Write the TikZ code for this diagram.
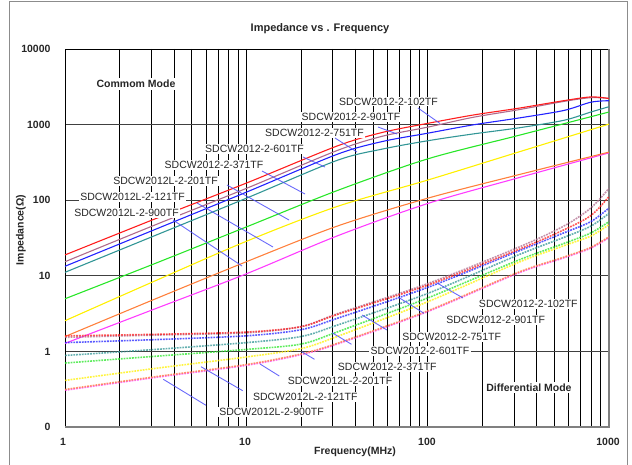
\documentclass[tikz,border=0pt]{standalone}
\usepackage{fontspec}
\setmainfont{Liberation Sans}
\definecolor{cred}{RGB}{255,30,30}
\definecolor{cmauve}{RGB}{176,106,140}
\definecolor{cblue}{RGB}{35,35,255}
\definecolor{cteal}{RGB}{50,150,150}
\definecolor{cgreen}{RGB}{40,230,40}
\definecolor{cyellow}{RGB}{255,240,0}
\definecolor{corange}{RGB}{255,128,60}
\definecolor{cpink}{RGB}{255,60,255}
\definecolor{lead}{RGB}{80,80,250}
\begin{document}
\begin{tikzpicture}[x=1pt, y=-1pt,
  gridline/.style={black, line width=0.7pt},
  decade/.style={black!75, line width=1.1pt},
  cmcurve/.style={line width=1.1pt},
  dmcurve/.style={line width=1.6pt, dash pattern=on 1.8pt off 1pt, opacity=0.75},
  part/.style={fill=white, inner sep=1.2pt, text=black!85, font=\fontsize{10.5pt}{12pt}\selectfont},
  tag/.style={text=black!85, font=\bfseries\fontsize{10.5pt}{12pt}\selectfont},
  leader/.style={draw=lead, line width=0.9pt, opacity=0.85}]
\useasboundingbox (0, 0) rectangle (632, 465);
\draw [black!45, line width=1pt] (9, 465) -- (9, 2) -- (627, 2) -- (627, 465);

% grid
\foreach \d in {0, 1, 2}
  \foreach \k in {2, ..., 9}
    \draw [gridline] ({65 + 181.3*(\d + log10(\k))}, 49) -- ++(0, 378);
\foreach \d in {1, 2}
  \draw [gridline] ({65 + 181.3*\d}, 49) -- ++(0, 378);
\foreach \i in {1, ..., 4}
  \draw [decade] (65, {49 + 75.6*\i}) -- (609, {49 + 75.6*\i});
\draw [black, line width=0.8pt] (65, 427) -- (65, 49) -- (609, 49);
\draw [black!50, line width=1.6pt] (65, 427) -- (609, 427) -- (609, 49);

% curves, log f against log Z
\begin{scope}[shift={(65, 351.7)}, x=181.3pt, y=75.6pt]
\draw [cmcurve, cpink] plot [smooth] coordinates {(0, 0.11) (0.5, 0.57) (1, 1.03) (1.5, 1.53) (2, 1.96) (2.5, 2.30) (3, 2.63)};
\draw [cmcurve, corange] plot [smooth] coordinates {(0, 0.20) (0.5, 0.70) (1, 1.19) (1.5, 1.66) (2, 2.03) (2.5, 2.34) (3, 2.64)};
\draw [cmcurve, cyellow] plot [smooth] coordinates {(0, 0.41) (0.5, 0.94) (1, 1.46) (1.5, 1.92) (2, 2.27) (2.5, 2.64) (3, 3.01)};
\draw [cmcurve, cgreen] plot [smooth] coordinates {(0, 0.70) (0.5, 1.17) (1, 1.65) (1.5, 2.13) (2, 2.55) (2.5, 2.86) (3, 3.17)};
\draw [cmcurve, cteal] plot [smooth] coordinates {(0, 1.05) (0.5, 1.54) (1, 2.03) (1.5, 2.53) (1.75, 2.68) (2, 2.79) (2.25, 2.88) (2.5, 2.96) (2.75, 3.06) (2.9, 3.17) (3, 3.24)};
\draw [cmcurve, cblue] plot [smooth] coordinates {(0, 1.13) (0.5, 1.62) (1, 2.11) (1.5, 2.61) (1.75, 2.78) (2, 2.89) (2.25, 3.0) (2.5, 3.09) (2.75, 3.19) (2.9, 3.3) (3, 3.32)};
\draw [cmcurve, cmauve] plot [smooth] coordinates {(0, 1.19) (0.5, 1.68) (1, 2.16) (1.5, 2.66) (1.75, 2.85) (2, 2.97) (2.25, 3.1) (2.5, 3.2) (2.75, 3.31) (2.9, 3.36) (3, 3.35)};
\draw [cmcurve, cred] plot [smooth] coordinates {(0, 1.28) (0.5, 1.76) (1, 2.23) (1.5, 2.72) (1.75, 2.9) (2, 3.02) (2.25, 3.13) (2.5, 3.22) (2.75, 3.32) (2.9, 3.37) (3, 3.35)};

\draw [dmcurve, cpink] plot [smooth] coordinates {(0, -0.51) (0.5, -0.34) (1, -0.18) (1.3, -0.04) (1.5, 0.10) (2, 0.53) (2.5, 1.04) (2.75, 1.24) (2.9, 1.37) (3, 1.51)};
\draw [dmcurve, corange] plot [smooth] coordinates {(0, -0.50) (0.5, -0.33) (1, -0.17) (1.3, -0.03) (1.5, 0.11) (2, 0.54) (2.5, 1.05) (2.75, 1.25) (2.9, 1.38) (3, 1.52)};
\draw [dmcurve, cyellow] plot [smooth] coordinates {(0, -0.38) (0.5, -0.22) (1, -0.07) (1.3, 0.04) (1.5, 0.2) (2, 0.66) (2.5, 1.18) (2.75, 1.40) (2.9, 1.53) (3, 1.68)};
\draw [dmcurve, cgreen] plot [smooth] coordinates {(0, -0.15) (0.5, -0.06) (1, 0.03) (1.3, 0.1) (1.5, 0.26) (2, 0.71) (2.5, 1.21) (2.75, 1.43) (2.9, 1.57) (3, 1.72)};
\draw [dmcurve, cteal] plot [smooth] coordinates {(0, -0.05) (0.5, 0.03) (1, 0.12) (1.3, 0.2) (1.5, 0.35) (2, 0.77) (2.5, 1.28) (2.75, 1.51) (2.9, 1.66) (3, 1.83)};
\draw [dmcurve, cblue] plot [smooth] coordinates {(0, 0.12) (0.5, 0.16) (1, 0.21) (1.3, 0.29) (1.5, 0.44) (2, 0.85) (2.5, 1.33) (2.75, 1.57) (2.9, 1.72) (3, 1.90)};
\draw [dmcurve, cmauve] plot [smooth] coordinates {(0, 0.19) (0.5, 0.22) (1, 0.25) (1.3, 0.33) (1.5, 0.5) (2, 0.9) (2.5, 1.38) (2.75, 1.66) (2.9, 1.9) (3, 2.16)};
\draw [dmcurve, cred] plot [smooth] coordinates {(0, 0.21) (0.5, 0.23) (1, 0.26) (1.3, 0.33) (1.5, 0.49) (2, 0.88) (2.5, 1.35) (2.75, 1.61) (2.9, 1.8) (3, 2.05)};
\end{scope}

% titles and axes
\node (title) at (320, 29) [tag, font=\bfseries\fontsize{11pt}{13pt}\selectfont] {Impedance vs . Frequency};
\node (ytitle) at (21, 230) [tag, rotate=90] {Impedance(Ω)};
\node (xtitle) at (355, 452) [tag] {Frequency(MHz)};
\node (y4) at (54, 49) [tag, anchor=east] {10000};
\node (y3) at (54, 124.6) [tag, anchor=east] {1000};
\node (y2) at (54, 200.2) [tag, anchor=east] {100};
\node (y1) at (54, 275.8) [tag, anchor=east] {10};
\node (y0) at (54, 351.4) [tag, anchor=east] {1};
\node (ym) at (54, 427) [tag, anchor=east] {0};
\node (x0) at (63, 442) [tag] {1};
\node (x1) at (245, 442) [tag] {10};
\node (x2) at (427, 442) [tag] {100};
\node (x3) at (608, 442) [tag] {1000};
\node (cmode) at (136, 84) [tag, fill=white, inner sep=2pt] {Commom Mode};
\node (dmode) at (529, 387.5) [tag, fill=white, inner sep=2pt] {Differential Mode};

% common mode labels
\node (cm102) at (388.5, 101.5) [part] {SDCW2012-2-102TF};
\node (cm901) at (351, 117) [part] {SDCW2012-2-901TF};
\node (cm751) at (314.5, 133.3) [part] {SDCW2012-2-751TF};
\node (cm601) at (254.5, 149) [part] {SDCW2012-2-601TF};
\node (cm371) at (214, 165) [part] {SDCW2012-2-371TF};
\node (cm201) at (165.5, 181) [part] {SDCW2012L-2-201TF};
\node (cm121) at (132.5, 197) [part] {SDCW2012L-2-121TF};
\node (cm900) at (126.5, 213) [part] {SDCW2012L-2-900TF};
\coordinate (cm102e) at (440, 123.5);
\coordinate (cm901e) at (397, 134);
\coordinate (cm751e) at (357, 152);
\coordinate (cm601e) at (325, 167);
\coordinate (cm371e) at (305, 194);
\coordinate (cm201e) at (289, 220);
\coordinate (cm121e) at (273, 247);
\coordinate (cm900e) at (242, 266);
\draw [leader] (cm102) ++(29.5, 6.5) -- (cm102e);
\draw [leader] (cm901) ++(27, 10) -- (cm901e);
\draw [leader] (cm751) ++(20.5, 4.7) -- (cm751e);
\draw [leader] (cm601) ++(48.5, 8) -- (cm601e);
\draw [leader] (cm371) ++(48, 6) -- (cm371e);
\draw [leader] (cm201) ++(61.5, 4) -- (cm201e);
\draw [leader] (cm121) ++(64.5, 6) -- (cm121e);
\draw [leader] (cm900) ++(46.5, 7) -- (cm900e);

% differential mode labels
\node (dm102) at (528.3, 304.3) [part] {SDCW2012-2-102TF};
\node (dm901) at (495.7, 320) [part] {SDCW2012-2-901TF};
\node (dm751) at (451.7, 336.7) [part] {SDCW2012-2-751TF};
\node (dm601) at (420, 350.7) [part] {SDCW2012-2-601TF};
\node (dm371) at (387.3, 366.7) [part] {SDCW2012-2-371TF};
\node (dm201) at (340, 381) [part] {SDCW2012L-2-201TF};
\node (dm121) at (305.3, 396.7) [part] {SDCW2012L-2-121TF};
\node (dm900) at (271.5, 412) [part] {SDCW2012L-2-900TF};
\coordinate (dm102e) at (437, 283);
\coordinate (dm901e) at (398, 297);
\coordinate (dm751e) at (362, 315);
\coordinate (dm601e) at (332, 332.7);
\coordinate (dm371e) at (301.7, 351.7);
\coordinate (dm201e) at (260, 364);
\coordinate (dm121e) at (201, 366.7);
\coordinate (dm900e) at (163.3, 379.3);
\draw [leader] (dm102) ++(-65.3, -6.3) -- (dm102e);
\draw [leader] (dm901) ++(-71.7, -6.7) -- (dm901e);
\draw [leader] (dm751) ++(-64.7, -6.7) -- (dm751e);
\draw [leader] (dm601) ++(-68.5, -6.4) -- (dm601e);
\draw [leader] (dm371) ++(-72.8, -7.4) -- (dm371e);
\draw [leader] (dm201) ++(-60.7, -5) -- (dm201e);
\draw [leader] (dm121) ++(-62.6, -6) -- (dm121e);
\draw [leader] (dm900) ++(-65.5, -6.7) -- (dm900e);
\end{tikzpicture}
\end{document}
